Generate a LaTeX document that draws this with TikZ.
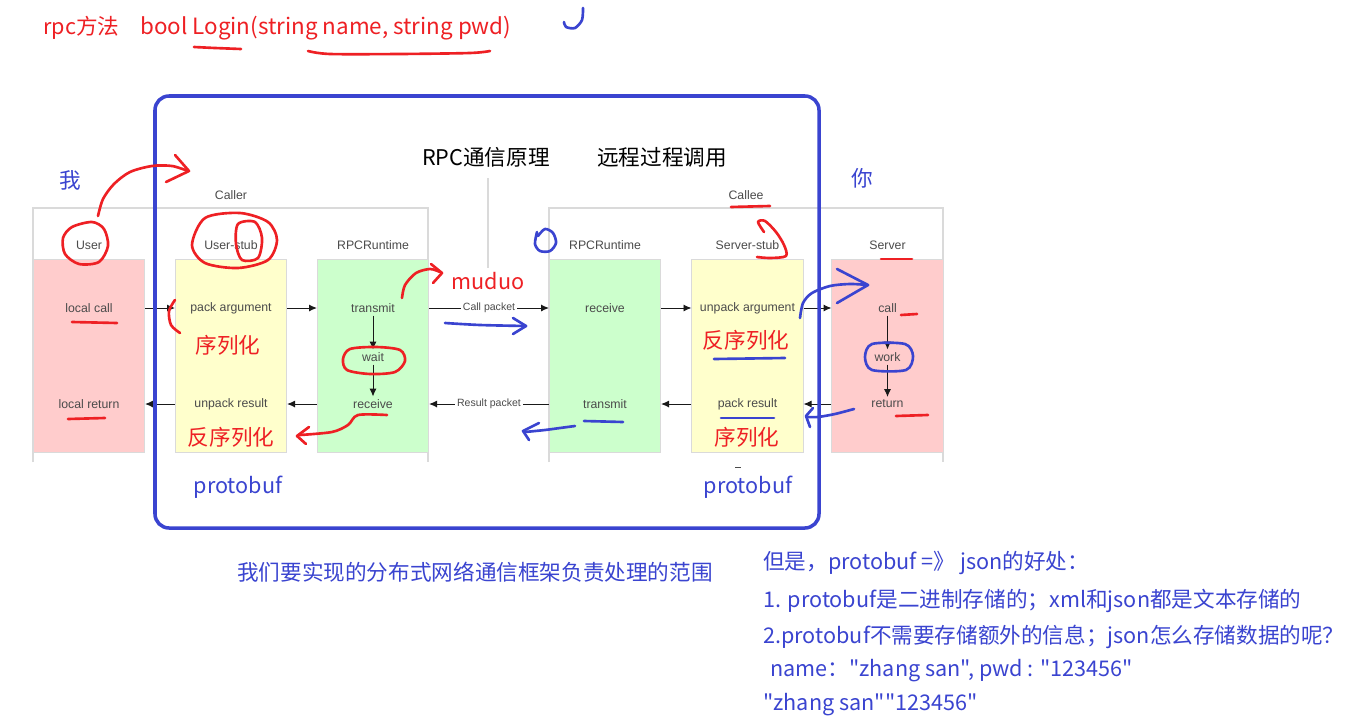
\documentclass[tikz,border=0pt]{standalone}
\usepackage{fontspec}
\setmainfont{Liberation Sans}
\newfontfamily\cjk[Ligatures=TeXOff]{Noto Sans CJK SC}
\usetikzlibrary{arrows.meta, positioning, calc}
\definecolor{myred}{RGB}{238,32,36}
\definecolor{myblue}{RGB}{58,68,208}
\definecolor{mydark}{RGB}{25,25,25}
\definecolor{mygray}{RGB}{75,75,75}
\definecolor{myline}{RGB}{218,218,218}
\definecolor{hdrpink}{RGB}{255,204,204}
\definecolor{hdryellow}{RGB}{255,255,204}
\definecolor{hdrgreen}{RGB}{204,255,204}
\newcommand{\notefont}{\cjk\fontsize{12.3}{14}\selectfont}
\tikzset{
  lane/.style={rectangle, draw=myline, minimum width=2.23cm, minimum height=3.86cm, inner sep=0pt},
  item/.style={font=\fontsize{7}{8}\selectfont, text=mygray, inner sep=1.5pt},
  arrow/.style={-{Latex[length=4.5pt,width=4pt]}, line width=0.55pt, color=mydark},
  frame/.style={line width=0.6pt, color=myline},
  ink/.style={line width=1.5pt, line cap=round, line join=round},
  note/.style={font=\notefont, inner sep=0pt}
}

\begin{document}
\begin{tikzpicture}[x=0.02cm, y=-0.02cm,
  pktlbl/.style={font=\fontsize{6}{7}\selectfont, text=mygray, fill=white, inner sep=1pt}
]
\fill[white] (0,0) rectangle (1351,723);
\useasboundingbox (0,0) rectangle (1351,723);
%--- method signature ---
\node[note, text=myred, anchor=west] (rpcm) at (43,28) {rpc方法};
\node[note, text=myred, anchor=west, font=\cjk\fontsize{12.75}{14}\selectfont] (sig) at (140,28) {bool Login(string name, string pwd)};
%--- titles ---
\node[note, text=black] (ttl) at (486,157) {RPC通信原理};
\node[note, text=black] (ttl2) at (662,157) {远程过程调用};
\node[note, text=myblue] (me) at (70,180) {我};
\node[note, text=myblue] (you) at (862,178) {你};
%--- caller / callee frames ---
\draw[frame] (33,462) -- (33,208) -- (428,208) -- (428,462);
\draw[frame] (549,462) -- (549,208) -- (943,208) -- (943,462);
\node[item] (caller) at (231,195) {Caller};
\node[item] (callee) at (746,195) {Callee};
\coordinate (vtop) at (488,178);
\coordinate (vbot) at (488,268);
\draw[frame] (vtop) -- (vbot);
\draw[mygray, line width=0.5pt] (735,467) -- (741,467);
%--- lanes ---
\foreach \name/\x/\col/\title in {usr/89/hdrpink/User, ustub/231/hdryellow/User-stub,
  crt/373/hdrgreen/RPCRuntime, srt/605/hdrgreen/RPCRuntime,
  sstub/747.5/hdryellow/Server-stub, srv/887.5/hdrpink/Server} {
  \node[lane, fill=\col] (\name) at (\x,355.5) {};
  \node[item] (\name-t) at (\x,245) {\title};
}
%--- steps ---
\node[item] (lcall) at (89,308) {local call};
\node[item] (lret) at (89,404) {local return};
\node[item] (pack) at (231,308) {pack argument};
\node[item] (unres) at (231,404) {unpack result};
\node[item] (ctx) at (373,308) {transmit};
\node[item] (cwait) at (373,357) {wait};
\node[item] (crx) at (373,404) {receive};
\node[item] (srx) at (605,308) {receive};
\node[item] (stx) at (605,404) {transmit};
\node[item] (unarg) at (747.5,308) {unpack argument};
\node[item] (pres) at (747.5,404) {pack result};
\node[item] (scall) at (887.5,308) {call};
\node[item] (swork) at (887.5,357) {work};
\node[item] (sret) at (887.5,404) {return};
% call path
\draw[arrow] (lcall -| usr.east) -- (pack -| ustub.west);
\draw[arrow] (pack -| ustub.east) -- (ctx -| crt.west);
\draw[arrow] (ctx -| crt.east) -- node[pktlbl]{Call packet} (srx -| srt.west);
\draw[arrow] (srx -| srt.east) -- (unarg -| sstub.west);
\draw[arrow] (unarg -| sstub.east) -- (scall -| srv.west);
% return path
\draw[arrow] (sret -| srv.west) -- (pres -| sstub.east);
\draw[arrow] (pres -| sstub.west) -- (stx -| srt.east);
\draw[arrow] (stx -| srt.west) -- node[pktlbl]{Result packet} (crx -| crt.east);
\draw[arrow] (crx -| crt.west) -- (unres -| ustub.east);
\draw[arrow] (unres -| ustub.west) -- (lret -| usr.east);
% inside lanes
\draw[arrow] (ctx) -- (cwait);
\draw[arrow] (cwait) -- (crx);
\draw[arrow] (scall) -- (swork);
\draw[arrow] (swork) -- (sret);

%--- scope of the framework ---
\draw[myblue, line width=2pt, rounded corners=8pt] (155,96) rectangle (819,528);
\node[note, text=myblue] (pb1) at (238,487) {protobuf};
\node[note, text=myblue] (pb2) at (748,487) {protobuf};
\node[note, text=myblue] (scope) at (475,572) {我们要实现的分布式网络通信框架负责处理的范围};

%--- red notes ---
\node[note, text=myred] (muduo) at (488,281) {muduo};
\node[note, text=myred] (ser1) at (228,345) {序列化};
\node[note, text=myred] (des1) at (231,437) {反序列化};
\node[note, text=myred] (des2) at (746,340) {反序列化};
\node[note, text=myred] (ser2) at (747,437) {序列化};
\draw[ink, myred] plot[smooth] coordinates {(194,47) (215,48) (241,49)};
\draw[ink, myred] plot[smooth] coordinates {(308,51) (330,54) (400,54) (470,53) (490,51)};
\draw[ink, myred] plot[smooth] coordinates {(98,216) (103,199) (114,184) (130,172) (152,166) (172,166) (188,171)};
\draw[ink, myred] (175,155) -- (189,171) -- (166,182);
\draw[ink, myred] plot[smooth cycle] coordinates {(72,227) (92,222) (104,229) (108,246) (99,262) (79,264) (65,254) (63,238)};
\draw[ink, myred] plot[smooth cycle] coordinates {(205,218) (240,213) (268,222) (277,240) (268,260) (238,268) (205,263) (192,245)};
\draw[ink, myred] plot[smooth cycle] coordinates {(238,224) (255,222) (262,238) (258,258) (242,260) (236,244)};
\draw[ink, myred] (72,322) -- (117,323);
\draw[ink, myred] (68,419) -- (105,418);
\draw[ink, myred] plot[smooth] coordinates {(175,300) (169,311) (171,325) (180,333)};
\draw[ink, myred] plot[smooth cycle] coordinates {(350,349) (376,347) (400,350) (405,361) (395,372) (370,374) (347,370) (343,359)};
\draw[ink, myred] plot[smooth] coordinates {(402,298) (405,285) (416,273) (430,269) (440,272)};
\draw[ink, myred] (431,264) -- (442,273) -- (433,283);
\draw[ink, myred] plot[smooth] coordinates {(387,415) (358,415) (348,425) (332,432) (300,435)};
\draw[ink, myred] (309,427) -- (297,436) -- (306,444);
\draw[ink, myred] (731,207) -- (770,206);
\draw[ink, myred] plot[smooth] coordinates {(764,232) (758,222) (765,221) (776,232) (784,245) (786,256) (770,258) (757,257)};
\draw[ink, myred] (881,259) -- (912,259);
\draw[ink, myred] (901,315) -- (917,314);
\draw[ink, myred] (896,416) -- (928,415);

%--- blue notes ---
\draw[ink, myblue] plot[smooth] coordinates {(583,8) (582,20) (575,28) (566,27) (564,22)};
\draw[ink, myblue] plot[smooth] coordinates {(538,236) (545,229) (553,233) (556,243) (550,251) (540,251) (535,244) (537,232)};
\draw[ink, myblue] plot[smooth] coordinates {(445,323) (480,325) (526,326)};
\draw[ink, myblue] (513,318) -- (526,326) -- (513,334);
\draw[ink, myblue] plot[smooth] coordinates {(800,318) (803,303) (812,293) (830,286) (850,284) (868,285)};
\draw[ink, myblue] (837,269) -- (868,285) -- (837,303);
\draw[ink, myblue] plot[smooth cycle] coordinates {(872,344) (905,344) (913,356) (906,370) (872,370) (865,357)};
\draw[ink, myblue] (714,359) -- (785,358);
\draw[ink, myblue] (721,418) -- (774,418);
\draw[ink, myblue] plot[smooth] coordinates {(854,409) (835,414) (818,417) (808,417)};
\draw[ink, myblue] (813,408) -- (806,416) -- (810,427);
\draw[ink, myblue] (584,421) -- (623,422);
\draw[ink, myblue] plot[smooth] coordinates {(575,426) (560,428) (545,430) (525,432)};
\draw[ink, myblue] (539,423) -- (523,431) -- (529,440);

%--- protobuf vs json ---
\foreach \x/\y/\txt in {763/563/{但是，protobuf =》 json的好处：},
  763/601/{1. protobuf是二进制存储的；xml和json都是文本存储的},
  763/637/{2.protobuf不需要存储额外的信息；json怎么存储数据的呢？},
  770/671/{name："zhang san", pwd : "123456"},
  763/705/{"zhang san""123456"}} {
  \node[note, text=myblue, anchor=west] at (\x,\y) {\txt};
}
\end{tikzpicture}
\end{document}
